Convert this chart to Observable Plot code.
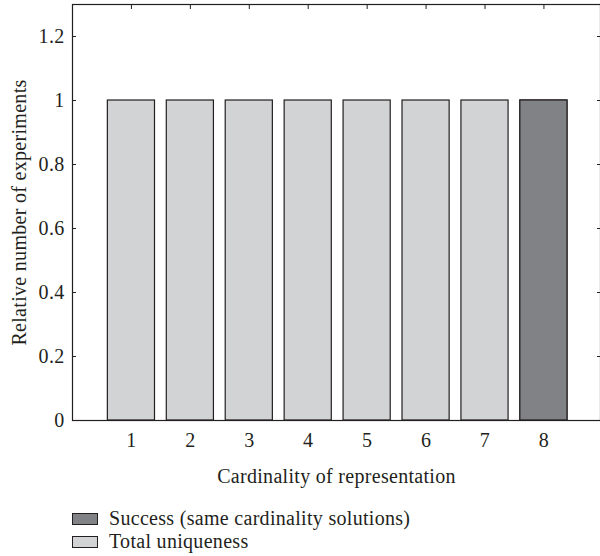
<!DOCTYPE html>
<html><head><meta charset="utf-8">
<script src="https://cdn.jsdelivr.net/npm/d3@7"></script>
<script src="https://cdn.jsdelivr.net/npm/@observablehq/plot@0.6"></script>
<style>
body{margin:0;background:#fff;font-family:"Liberation Serif",serif;}
svg text{font-family:"Liberation Serif",serif;letter-spacing:0.3px;}
#legend{position:absolute;left:72px;top:507px;font-size:20px;color:#231f20;letter-spacing:0.3px;}
.li{display:flex;align-items:center;gap:11px;height:23px;}
.sw{width:24px;height:10px;border:1px solid #231f20;display:inline-block;}
</style></head><body>
<div id="chart"></div>
<div id="legend"></div>
<script>
const cardinality = [1,2,3,4,5,6,7,8];
const totalUniqueness = [1,1,1,1,1,1,1,1];
const success = [0,0,0,0,0,0,0,1];
const yTicks = [0,0.2,0.4,0.6,0.8,1,1.2];
const seriesNames = ["Success (same cardinality solutions)","Total uniqueness"];
const colors = ["#818286","#d2d3d5"];

const rows = cardinality.map((c,i)=>({c, total: totalUniqueness[i], success: success[i]}));
const bw = 0.4;
const plot = Plot.plot({
  width: 600, height: 490,
  marginLeft: 72, marginRight: 0, marginTop: 4, marginBottom: 70,
  style: {fontFamily: "'Liberation Serif', serif", fontSize: "20px", color: "#231f20"},
  x: {domain: [0, 8.96], ticks: cardinality, label: null},
  y: {domain: [0, 1.3], ticks: yTicks, label: null},
  marks: [
    Plot.rectY(rows, {x1: d=>d.c-bw, x2: d=>d.c+bw, y: "total", fill: colors[1], stroke: "#231f20", strokeWidth: 1.2}),
    Plot.rectY(rows.filter(d=>d.success>0), {x1: d=>d.c-bw, x2: d=>d.c+bw, y: "success", fill: colors[0], stroke: "#231f20", strokeWidth: 1.2}),
    Plot.frame({stroke: "#231f20", strokeWidth: 1.2}),
    Plot.axisY(yTicks, {anchor: "left", tickSize: 0, tickPadding: 8, tickFormat: d=>String(d), label: null, fontSize: 20}),
    Plot.axisY(yTicks, {anchor: "left", tickSize: -4, text: null, label: null}),
    Plot.axisY(yTicks, {anchor: "right", tickSize: -4, text: null, label: null}),
    Plot.axisX(cardinality, {anchor: "top", tickSize: -4, text: null, label: null}),
    Plot.axisX(cardinality, {anchor: "bottom", tickSize: 0, tickPadding: 12, label: null, fontSize: 20}),
    Plot.text(["Cardinality of representation"], {frameAnchor: "bottom", dy: 62, fontSize: 20}),
    Plot.text(["Relative number of experiments"], {frameAnchor: "left", dx: -53, rotate: -90, textAnchor: "middle", lineAnchor: "middle", fontSize: 20})
  ]
});
document.getElementById("chart").appendChild(plot);
const lg = document.getElementById("legend");
seriesNames.forEach((n,i)=>{
  const d = document.createElement("div"); d.className="li";
  d.innerHTML = `<span class="sw" style="background:${colors[i]}"></span><span>${n}</span>`;
  lg.appendChild(d);
});
</script></body></html>
